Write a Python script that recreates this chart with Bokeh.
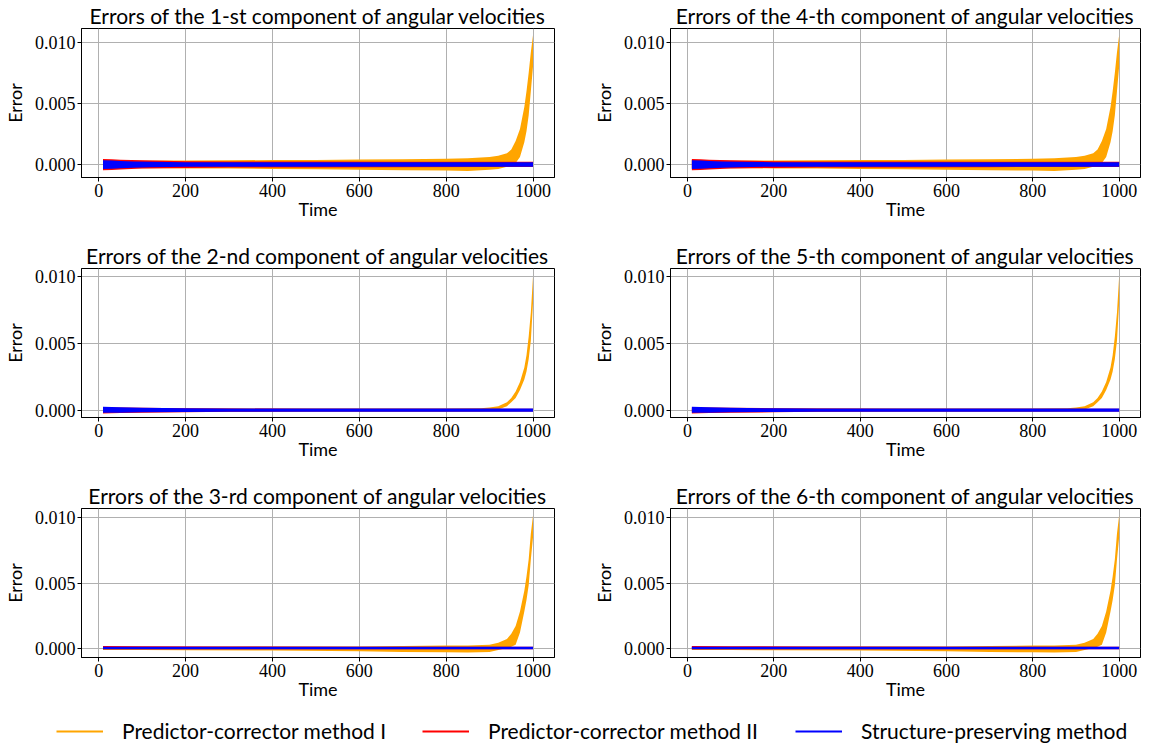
from bokeh.plotting import figure
from bokeh.layouts import column, row
from bokeh.models import Range1d, FixedTicker, PrintfTickFormatter, Legend, LegendItem
from bokeh.embed import file_html
from bokeh.resources import INLINE

SANS = "Lato"
SERIF = "Liberation Serif"
ORANGE = "#FFA500"
RED = "#FF0000"
BLUE = "#0000FF"

x_ticks = [0, 200, 400, 600, 800, 1000]
y_ticks = [0.0, 0.005, 0.010]
legend_labels = ["Predictor-corrector method I", "Predictor-corrector method II", "Structure-preserving method"]
titles = {
    1: "Errors of the 1-st component of angular velocities",
    2: "Errors of the 2-nd component of angular velocities",
    3: "Errors of the 3-rd component of angular velocities",
    4: "Errors of the 4-th component of angular velocities",
    5: "Errors of the 5-th component of angular velocities",
    6: "Errors of the 6-th component of angular velocities",
}

# ---- envelopes (components 1 & 4) ----
a_orange_t = [10, 20, 30, 50, 75, 100, 150, 200, 300, 400, 500, 600, 700, 800, 850, 880, 900, 920, 940, 950, 960, 970, 980, 985, 990, 995, 1000]
a_orange_hi = [0.00035, 0.0003, 0.0003, 0.00028, 0.0003, 0.00028, 0.0003, 0.0003, 0.00032, 0.00035, 0.00035, 0.00038, 0.0004, 0.00045, 0.0005, 0.00055, 0.0006, 0.0007, 0.0009, 0.0012, 0.0019, 0.0029, 0.0047, 0.006, 0.0075, 0.0092, 0.0106]
a_orange_lo = [-0.0003, -0.0003, -0.0003, -0.0003, -0.0003, -0.00032, -0.00033, -0.00035, -0.00035, -0.0004, -0.00042, -0.00045, -0.0005, -0.00052, -0.00055, -0.0005, -0.00045, -0.0004, -0.0002, -0.0001, 0.0001, 0.0006, 0.0018, 0.0027, 0.004, 0.006, 0.008]
a_red_t = [10, 30, 50, 100, 200, 300, 500, 700, 900, 1000]
a_red_hi = [0.00042, 0.0004, 0.00037, 0.00032, 0.00025, 0.00022, 0.00022, 0.0002, 0.0002, 0.0002]
a_red_lo = [-0.0005, -0.00048, -0.00043, -0.00036, -0.0003, -0.00027, -0.00026, -0.00024, -0.00022, -0.00022]
a_blue_t = [10, 30, 50, 80, 120, 200, 400, 1000]
a_blue_hi = [0.00033, 0.0003, 0.00027, 0.00022, 0.0002, 0.00017, 0.00016, 0.00016]
a_blue_lo = [-0.0004, -0.00038, -0.00033, -0.00028, -0.00024, -0.0002, -0.0002, -0.0002]

# ---- components 2 & 5 ----
b_orange_t = [10, 50, 100, 200, 400, 600, 800, 880, 900, 920, 940, 950, 960, 970, 980, 985, 990, 995, 1000]
b_orange_hi = [0.0001, 0.0001, 0.0001, 0.00012, 0.00012, 0.00012, 0.00012, 0.00015, 0.0002, 0.0003, 0.0006, 0.0009, 0.0014, 0.0021, 0.0032, 0.0041, 0.0055, 0.0073, 0.0100]
b_orange_lo = [-0.0001, -0.0001, -0.0001, -0.0001, -0.0001, -0.0001, -0.0001, -0.00008, -0.00005, 0.00005, 0.0003, 0.0006, 0.0009, 0.0015, 0.0023, 0.0029, 0.0038, 0.0052, 0.0080]
b_red_t = [10, 50, 100, 200, 300, 500, 800, 1000]
b_red_hi = [0.0002, 0.0002, 0.00018, 0.00015, 0.00012, 0.0001, 0.0001, 0.0001]
b_red_lo = [-0.00025, -0.00022, -0.0002, -0.00016, -0.00012, -0.0001, -0.0001, -0.0001]
b_blue_t = [10, 50, 100, 200, 300, 1000]
b_blue_hi = [0.00025, 0.00022, 0.00018, 0.00014, 0.00012, 0.00012]
b_blue_lo = [-0.0002, -0.0002, -0.00016, -0.00013, -0.00012, -0.00012]

# ---- components 3 & 6 ----
c_orange_t = [10, 100, 200, 400, 600, 700, 800, 850, 900, 920, 940, 950, 960, 970, 980, 985, 990, 995, 1000]
c_orange_hi = [0.0001, 0.0001, 0.0001, 0.00012, 0.00012, 0.00015, 0.0002, 0.0002, 0.00025, 0.0004, 0.0007, 0.0011, 0.0017, 0.0028, 0.0044, 0.0055, 0.0068, 0.0088, 0.0102]
c_orange_lo = [-0.00015, -0.00015, -0.00018, -0.0002, -0.00025, -0.0003, -0.00033, -0.00034, -0.0003, -0.00015, 0.0, 0.0001, 0.00025, 0.0012, 0.0028, 0.0037, 0.0048, 0.0068, 0.0085]
c_red_t = [10, 100, 300, 600, 1000]
c_red_hi = [0.00016, 0.00014, 0.00012, 0.0001, 0.0001]
c_red_lo = [-0.0001, -0.0001, -0.0001, -0.0001, -0.0001]
c_blue_t = [10, 100, 1000]
c_blue_hi = [0.0001, 0.0001, 0.0001]
c_blue_lo = [-0.0001, -0.0001, -0.0001]

y_limits = {"a": (-0.00109, 0.01115), "b": (-0.00055, 0.0106), "c": (-0.00073, 0.01073)}
x_limits = (-39.5, 1049.5)

datasets = {
    "a": [(a_orange_t, a_orange_lo, a_orange_hi, ORANGE), (a_red_t, a_red_lo, a_red_hi, RED), (a_blue_t, a_blue_lo, a_blue_hi, BLUE)],
    "b": [(b_orange_t, b_orange_lo, b_orange_hi, ORANGE), (b_red_t, b_red_lo, b_red_hi, RED), (b_blue_t, b_blue_lo, b_blue_hi, BLUE)],
    "c": [(c_orange_t, c_orange_lo, c_orange_hi, ORANGE), (c_red_t, c_red_lo, c_red_hi, RED), (c_blue_t, c_blue_lo, c_blue_hi, BLUE)],
}
component_set = {1: "a", 4: "a", 2: "b", 5: "b", 3: "c", 6: "c"}


def make_fig(comp, first_col, last_row):
    key = component_set[comp]
    width = 589 if first_col else 552
    height = 225 if last_row else 240
    p = figure(width=width, height=height, output_backend="svg", toolbar_location=None,
               x_range=Range1d(*x_limits), y_range=Range1d(*y_limits[key]),
               min_border_left=69 if first_col else 68, min_border_right=35 if first_col else 1,
               min_border_top=19, min_border_bottom=48 if last_row else 63)
    p.title.text = titles[comp]
    p.title.text_font = SANS
    p.title.text_font_size = "21px"
    p.title.text_font_style = "normal"
    p.title.text_color = "black"
    p.title.align = "center"
    p.title.standoff = 1
    p.outline_line_color = "black"
    p.outline_line_width = 1
    p.background_fill_color = "white"
    p.border_fill_color = "white"

    for t, lo, hi, col in datasets[key]:
        p.varea(x=t, y1=lo, y2=hi, fill_color=col, fill_alpha=1.0)

    xt = FixedTicker(ticks=x_ticks)
    yt = FixedTicker(ticks=y_ticks)
    p.xaxis.ticker = xt
    p.yaxis.ticker = yt
    p.xgrid.ticker = xt
    p.ygrid.ticker = yt
    p.yaxis.formatter = PrintfTickFormatter(format="%.3f")
    p.grid.grid_line_color = "#b0b0b0"
    p.grid.grid_line_width = 1
    p.xaxis.axis_label = "Time"
    p.yaxis.axis_label = "Error"
    for ax in (p.xaxis, p.yaxis):
        ax.axis_label_text_font = SANS
        ax.axis_label_text_font_size = "18px"
        ax.axis_label_text_font_style = "normal"
        ax.axis_label_text_color = "black"
        ax.major_label_text_font = SERIF
        ax.major_label_text_font_size = "18px"
        ax.major_label_text_color = "black"
        ax.axis_line_color = "black"
        ax.major_tick_line_color = "black"
        ax.major_tick_out = 4
        ax.major_tick_in = 0
        ax.minor_tick_out = 0
        ax.minor_tick_in = 0
    p.xaxis.major_label_standoff = 2
    p.xaxis.axis_label_standoff = -2
    p.yaxis.major_label_standoff = 2
    p.yaxis.axis_label_standoff = 6
    return p


rows = []
for (c1, c2, last) in [(1, 4, False), (2, 5, False), (3, 6, True)]:
    rows.append(row(make_fig(c1, True, last), make_fig(c2, False, last)))

# legend figure
lf = figure(width=1141, height=38, output_backend="svg", toolbar_location=None,
            x_range=Range1d(0, 1), y_range=Range1d(0, 1), x_axis_type=None, y_axis_type=None,
            min_border_left=0, min_border_right=0, min_border_top=0, min_border_bottom=0)
lf.outline_line_color = None
lf.grid.visible = False
legend_x = [56, 422, 795]
for lab, col, lx in zip(legend_labels, [ORANGE, RED, BLUE], legend_x):
    r = lf.line(x=[-5, -4], y=[-5, -5], line_color=col, line_width=2)
    leg = Legend(items=[LegendItem(label=lab, renderers=[r])], location=(lx, 0),
                 orientation="horizontal", glyph_width=47, label_standoff=19,
                 padding=0, margin=0, border_line_alpha=0, background_fill_alpha=0,
                 label_text_font=SANS, label_text_font_size="21px", label_text_color="black")
    lf.add_layout(leg)

layout = column(*rows, lf)
open("out.html", "w").write(file_html(layout, INLINE))
